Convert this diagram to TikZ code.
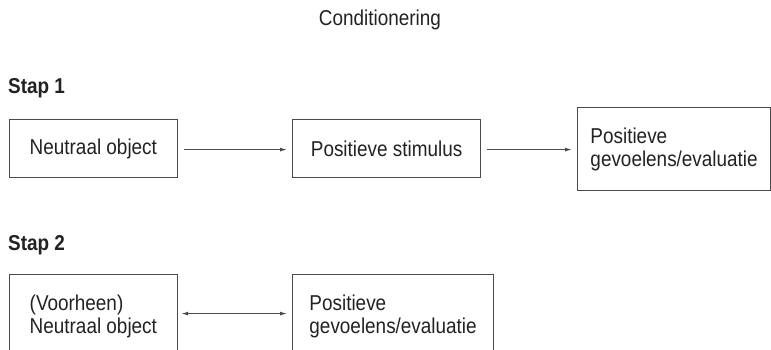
\documentclass[tikz,border=0pt]{standalone}
\usepackage{fontspec}
\setmainfont[FakeStretch=0.88]{Liberation Sans}
\usetikzlibrary{arrows.meta}
\definecolor{inkgray}{HTML}{222222}
\definecolor{rulegray}{HTML}{4A4A4A}
\begin{document}
\begin{tikzpicture}[x=1pt,y=-1pt,
  every node/.style={text=inkgray, font=\fontsize{21.5}{23}\selectfont},
  box/.style={draw=rulegray, line width=1.2pt, align=left, inner sep=0pt, anchor=north west},
  heading/.style={font=\fontsize{21.5}{23}\selectfont\bfseries, anchor=west, inner sep=0pt},
  tip/.style={Latex[length=7pt,width=4pt]},
  link/.style={draw=rulegray, line width=1.1pt, -{Latex[length=7pt,width=4pt]}},
  twoway/.style={draw=rulegray, line width=1.1pt, {Latex[length=7pt,width=4pt]}-{Latex[length=7pt,width=4pt]}}]
\useasboundingbox (0,0) rectangle (771,349);
\clip (0,0) rectangle (771,349);

\node[inner sep=0pt] (title) at (380,20) {Conditionering};

% step 1
\node[heading] (s1) at (8,88) {Stap 1};
\node[box, minimum width=168.5pt, minimum height=58pt, align=center] (n1) at (8.5,119) {Neutraal object};
\node[box, minimum width=188pt, minimum height=58pt, align=center] (n2) at (292,119) {Positieve stimulus};
\node[box, minimum width=193pt, minimum height=83pt] (n3) at (577,107) {Positieve\\gevoelens/evaluatie};
\draw[link, shorten <=6pt, shorten >=5pt] ([yshift=-1pt]n1.east) -- ([yshift=-1pt]n2.west);
\draw[link, shorten <=6pt, shorten >=5pt] ([yshift=-1pt]n2.east) -- ([yshift=-1pt]n3.west |- n2.east);

% step 2
\node[heading] (s2) at (8,245) {Stap 2};
\node[box, minimum width=168.5pt, minimum height=84pt] (m1) at (8.5,274) {(Voorheen)\\Neutraal object};
\node[box, minimum width=201pt, minimum height=84pt] (m2) at (292,274) {Positieve\\gevoelens/evaluatie};
\draw[twoway, shorten <=3pt, shorten >=5pt] ([yshift=3pt]m1.east) -- ([yshift=3pt]m2.west);
\end{tikzpicture}
\end{document}
